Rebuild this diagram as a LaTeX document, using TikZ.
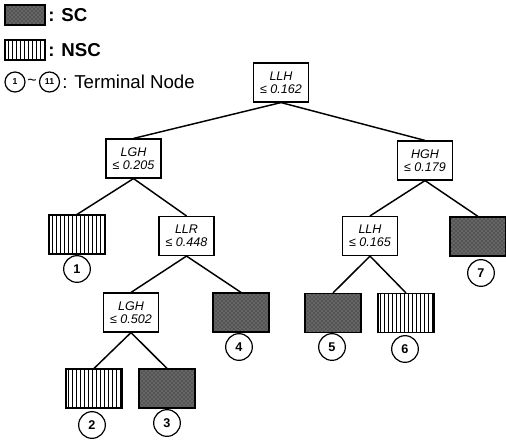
\documentclass[tikz,border=0pt]{standalone}
\usepackage{fontspec}
\setmainfont{Liberation Sans}
\usetikzlibrary{patterns,patterns.meta}

\begin{document}
\begin{tikzpicture}[x=0.75pt, y=-0.75pt,
  split/.style={draw, line width=1.1pt, fill=white, align=center,
                minimum width=41pt, minimum height=29pt, inner sep=0pt,
                font=\fontsize{9.4}{10}\selectfont\itshape},
  scleaf/.style={draw, line width=1.1pt, preaction={fill=black!60},
                 pattern=crosshatch dots, pattern color=black!90,
                 minimum width=42pt, minimum height=29pt, inner sep=0pt},
  nscleaf/.style={draw, line width=1.1pt, fill=white,
                  pattern={Lines[angle=90, distance=3pt, line width=0.6pt]},
                  minimum width=42pt, minimum height=29pt, inner sep=0pt},
  term/.style={draw, circle, line width=0.9pt, minimum size=20pt, inner sep=0pt,
               font=\fontsize{9.5}{10}\selectfont\bfseries},
  keyterm/.style={term, minimum size=15pt,
                  font=\fontsize{6.5}{7}\selectfont\bfseries},
  keytext/.style={anchor=west, inner sep=0pt, font=\fontsize{14}{16}\selectfont},
  edge/.style={line width=1.1pt}
]
\useasboundingbox (0,0) rectangle (506,439);

% legend
\node[scleaf, minimum width=30pt, minimum height=15pt] (keysc) at (25,15) {};
\node[keytext, font=\fontsize{14}{16}\selectfont\bfseries] (keysctext) at (48,15) {: SC};
\node[nscleaf, minimum width=30pt, minimum height=15pt] (keynsc) at (25,50) {};
\node[keytext, font=\fontsize{14}{16}\selectfont\bfseries] (keynsctext) at (48,50) {: NSC};
\node[keyterm] (keyone) at (15,82) {1};
\node[inner sep=0pt, font=\fontsize{12}{12}\selectfont] (keytilde) at (32,82) {\textasciitilde};
\node[keyterm] (keyeleven) at (49.5,82) {11};
\node[keytext] (keytermtext) at (62,82) {: Terminal Node};

% splits
\node[split] (llh162) at (281,82.5) {LLH\\≤ 0.162};
\node[split] (lgh205) at (133.5,158.5) {LGH\\≤ 0.205};
\node[split] (hgh179) at (425,160.5) {HGH\\≤ 0.179};
\node[split] (llr448) at (186.5,236) {LLR\\≤ 0.448};
\node[split] (llh165) at (370,236) {LLH\\≤ 0.165};
\node[split] (lgh502) at (131,312.5) {LGH\\≤ 0.502};

% leaves
\node[nscleaf] (leaf1) at (77,234.5) {};
\node[nscleaf] (leaf2) at (94,388.5) {};
\node[scleaf] (leaf3) at (167,388.5) {};
\node[scleaf] (leaf4) at (241,312.5) {};
\node[scleaf] (leaf5) at (333,313) {};
\node[nscleaf] (leaf6) at (406,313) {};
\node[scleaf] (leaf7) at (478,236.5) {};

% terminal numbers
\node[term] (term1) at (77,269) {1};
\node[term] (term2) at (92,425) {2};
\node[term] (term3) at (167,423) {3};
\node[term] (term4) at (239,347) {4};
\node[term] (term5) at (332,347) {5};
\node[term] (term6) at (405,349) {6};
\node[term] (term7) at (481,273) {7};

\draw[edge] (llh162.south) -- (lgh205.north);
\draw[edge] (llh162.south) -- (hgh179.north);
\draw[edge] (lgh205.south) -- (leaf1.north);
\draw[edge] (lgh205.south) -- (llr448.north);
\draw[edge] (llr448.south) -- (lgh502.north);
\draw[edge] (llr448.south) -- (leaf4.north);
\draw[edge] (lgh502.south) -- (leaf2.north);
\draw[edge] (lgh502.south) -- (leaf3.north);
\draw[edge] (hgh179.south) -- (llh165.north);
\draw[edge] (hgh179.south) -- (leaf7.north);
\draw[edge] (llh165.south) -- (leaf5.north);
\draw[edge] (llh165.south) -- (leaf6.north);
\end{tikzpicture}
\end{document}
